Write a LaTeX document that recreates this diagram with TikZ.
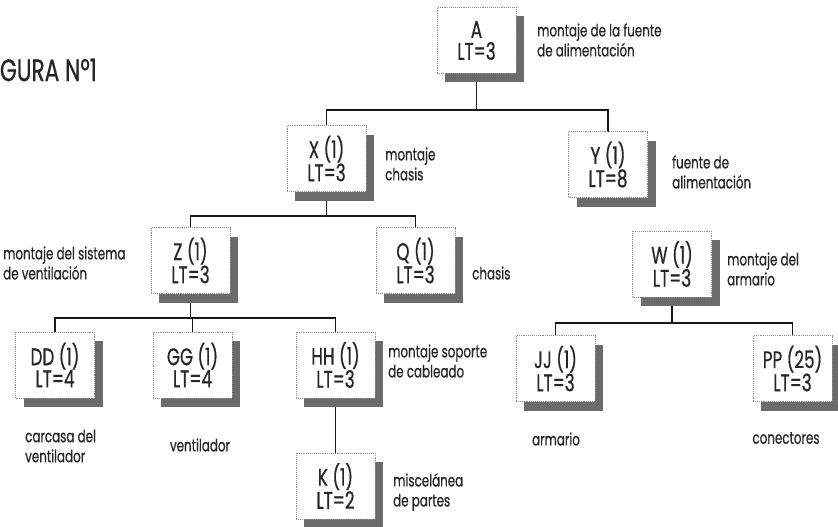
\documentclass[tikz,border=0pt]{standalone}
\usepackage{fontspec}
\setmainfont{Poppins}[FakeStretch=0.7, FakeBold=0.6]
\usetikzlibrary{shadows,backgrounds}
\tikzset{
  part/.style={draw=black!45, densely dotted, line width=0.9pt, fill=white,
    minimum width=79pt, minimum height=66pt, inner sep=0pt, align=center,
    text=black!85, font=\fontsize{24}{22}\selectfont,
    drop shadow={shadow xshift=8pt, shadow yshift=-9pt, fill=black!58, opacity=1}},
  note/.style={align=left, inner sep=0pt, text=black!85, font=\fontsize{17}{20}\selectfont},
  link/.style={line width=1.4pt, black!90}
}
\begin{document}
\begin{tikzpicture}[x=1pt, y=-1pt]
\useasboundingbox (0,0) rectangle (838,527);
\clip (0,0) rectangle (838,527);

% title
\node[anchor=east, inner sep=0pt, text=black!85, font=\fontsize{31}{32}\selectfont] (title) at (97,70) {FIGURA Nº1};

% parts
\node[part] (A)  at (476.5,40.5) {A\\LT=3};
\node[part] (X)  at (326.5,158.5) {X (1)\\LT=3};
\node[part] (Y)  at (608,164.5) {Y (1)\\LT=8};
\node[part] (Z)  at (190.5,260.5) {Z (1)\\LT=3};
\node[part] (Q)  at (415.5,260.5) {Q (1)\\LT=3};
\node[part] (W)  at (672,264) {W (1)\\LT=3};
\node[part] (DD) at (55,365) {DD (1)\\LT=4};
\node[part] (GG) at (192.5,365) {GG (1)\\LT=4};
\node[part] (HH) at (335.5,365) {HH (1)\\LT=3};
\node[part] (JJ) at (555.5,368.5) {JJ (1)\\LT=3};
\node[part] (PP) at (792.5,368.5) {PP (25)\\LT=3};
\node[part] (K)  at (335.5,486) {K (1)\\LT=2};

% descriptions
\node[note, anchor=west] (lA)  at (537,40)  {montaje de la fuente\\de alimentación};
\node[note, anchor=west] (lX)  at (385,164) {montaje\\chasis};
\node[note, anchor=west] (lY)  at (672,172) {fuente de\\alimentación};
\node[note, anchor=west] (lZ)  at (3,263)   {montaje del sistema\\de ventilación};
\node[note, anchor=west] (lQ)  at (472,273) {chasis};
\node[note, anchor=west] (lW)  at (727,269) {montaje del\\armario};
\node[note, anchor=west] (lHH) at (388,361) {montaje soporte\\de cableado};
\node[note, anchor=west] (lDD) at (25,446)  {carcasa del\\ventilador};
\node[note] (lGG) at (200,445) {ventilador};
\node[note] (lJJ) at (556,439) {armario};
\node[note] (lPP) at (786,438) {conectores};
\node[note, anchor=west] (lK)  at (393,492) {miscelánea\\de partes};

% bus levels
\coordinate (b1) at (0,110);
\coordinate (b2) at (0,216);
\coordinate (b3) at (0,318);
\coordinate (b4) at (0,323);

% connectors
\begin{scope}[on background layer]
  \draw[link] (A.center) -- (A.center |- b1);
  \draw[link] (X.center) |- (Y.center |- b1) -- (Y.center);
  \draw[link] (X.center) -- (X.center |- b2);
  \draw[link] (Z.center) |- (Q.center |- b2) -- (Q.center);
  \draw[link] (Z.center) -- (Z.center |- b3);
  \draw[link] (DD.center) |- (HH.center |- b3) -- (HH.center);
  \draw[link] (GG.center) -- (GG.center |- b3);
  \draw[link] (HH.center) -- (K.center);
  \draw[link] (W.center) -- (W.center |- b4);
  \draw[link] (JJ.center) |- (PP.center |- b4) -- (PP.center);
\end{scope}
\end{tikzpicture}
\end{document}
